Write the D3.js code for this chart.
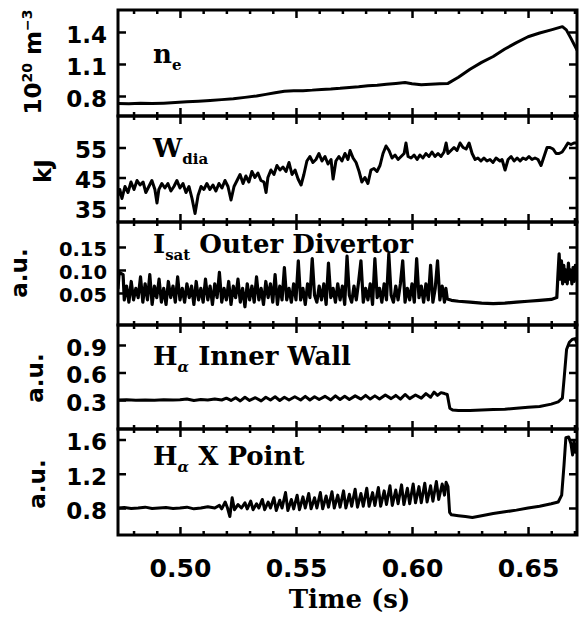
<!DOCTYPE html>
<html><head><meta charset="utf-8">
<script src="https://cdn.jsdelivr.net/npm/d3@7"></script>
<style>
html,body{margin:0;padding:0;background:#fff;}
svg{display:block;}
</style></head><body>
<svg id="chart" width="579" height="619"></svg>
<script>
// ---- time axis (s) ----
const timeDomain = [0.4733, 0.6711];
const majorTimeTicks = [0.50, 0.55, 0.60, 0.65];
const minorTimeTicks = [0.48,0.49,0.51,0.52,0.53,0.54,0.56,0.57,0.58,0.59,0.61,0.62,0.63,0.64,0.66,0.67];

// ---- signals: [time in ms, value] ----
const neData = [[473.3,.73],[478,.728],[483,.732],[488,.729],[493,.733],[498,.738],[503,.745],[508,.75],[513,.757],[518,.766],[523,.775],[528,.787],[533,.80],[537,.815],[541,.83],[545,.845],[549,.848],[553,.85],[557,.855],[561,.862],[565,.866],[569,.872],[573,.88],[577,.886],[581,.895],[585,.90],[589,.91],[593,.918],[597,.926],[600,.915],[604,.905],[608,.91],[612,.915],[615.5,.918],[620,.975],[625,1.05],[630,1.115],[635,1.17],[640,1.24],[645,1.30],[650,1.355],[655,1.39],[660,1.42],[664.8,1.45],[666.5,1.42],[668.5,1.34],[671.1,1.23]];

const wdiaData = [[473.3,39],[474.1,41],[475,38],[476.3,42],[477.6,40],[478.9,43.5],[480.2,41],[481.5,44],[482.8,42.5],[484.1,43.5],[485.3,40],[486.6,42],[487.9,44],[489.2,41],[490.1,36.5],[490.9,41],[492.2,43],[493.5,41.5],[494.8,43],[496.1,40.5],[497.4,42],[498.7,44],[500,41.5],[501.3,43],[502.6,40],[503.9,42],[505.2,38],[506.5,33],[507.8,39],[509.1,42],[510.3,41],[511.6,43],[512.9,41],[514.2,42.5],[515.5,40.5],[516.8,43],[518.1,41.5],[519.4,44],[520.7,42],[522,37.5],[523.3,42],[524.6,44],[525.9,46],[527.2,43],[528.4,45.5],[529.7,43.5],[531,47],[532.3,45],[533.6,46.5],[534.9,44],[536.2,43.5],[537.1,40],[537.9,45],[539.2,47.5],[540.5,46],[541.8,49],[543.1,47.5],[544.4,48.5],[545.7,47],[547,50],[548.3,46],[549.6,47.5],[550.9,44.5],[552.2,42.5],[553.4,46],[554.7,50.5],[556,52],[557.3,50],[558.6,51],[559.9,53],[561.2,50.5],[562.5,52],[563.8,49.5],[565.1,51],[566,44.5],[567.2,50.5],[568.5,52],[569.8,50.5],[571.1,53],[572.4,51],[573.3,54],[574.6,51.5],[575.9,50],[577.2,47],[578.4,43.5],[579.7,45],[581,43],[582.3,47.5],[583.6,48],[584.9,47],[586.2,49],[587.5,53],[588.8,55.5],[590.1,54],[591.4,51.5],[592.7,52.5],[594,51],[595.3,52],[596.6,53],[597.4,56.5],[598.3,52],[599.6,51.5],[600.9,52.5],[602.2,51],[603.4,52.5],[604.7,51.5],[606,53],[607.3,52],[608.6,53.5],[609.9,52],[611.2,53],[612.5,52],[613.8,53.5],[614.7,56.5],[615.5,53],[616.8,54],[618.1,55],[619.4,54],[620.7,56.5],[622,55],[623.3,54.5],[624.6,56.5],[625.9,53],[627.2,51],[628.4,51.5],[629.7,50.5],[631,51.5],[632.3,50.5],[633.6,51],[634.9,50],[636.2,51.5],[637.9,50.5],[638.8,51],[640.1,47.5],[641.4,51],[642.7,52],[644,50.5],[645.3,51.5],[646.6,50.5],[647.8,51.5],[649.1,51],[650.4,52],[651.7,51],[653,51.5],[654.3,51],[655.6,49],[656.9,52],[658.2,55],[659.5,55],[660.8,54.5],[662.1,53],[663.4,53],[664.7,53.5],[666,55],[667.2,56.5],[668.5,56],[669.8,56.5],[671.1,56.5]];

const isatData = [[473.3,.06],[473.8,.095],[475.5,.09],[476,.035],[477,.065],[478,.03],[479,.075],[480,.035],[481,.06],[482,.04],[483,.085],[484,.03],[485,.07],[486,.035],[487,.09],[488,.025],[489,.065],[490,.04],[491,.08],[492,.03],[493,.06],[494,.025],[495,.075],[496,.04],[497,.065],[498,.03],[499,.085],[500,.035],[501,.06],[502,.03],[503,.07],[504,.04],[505,.065],[506,.025],[507,.075],[508,.035],[509,.06],[510,.03],[511,.08],[512,.035],[513,.065],[514,.025],[515,.07],[516,.04],[517,.095],[518,.03],[519,.06],[520,.035],[521,.075],[522,.025],[523,.065],[524,.04],[525,.08],[526,.03],[527,.06],[528,.02],[529,.07],[530,.035],[531,.065],[532,.03],[533,.085],[534,.035],[535,.06],[536,.025],[537,.075],[538,.04],[539,.07],[540,.03],[541,.09],[542,.025],[543,.065],[544,.035],[545,.105],[546,.035],[547,.06],[548,.03],[549,.07],[550,.035],[551,.12],[552,.035],[553,.06],[554,.025],[555,.07],[556,.04],[557,.125],[558,.045],[559,.03],[560,.065],[561,.035],[562,.07],[563,.025],[564,.115],[565,.04],[566,.06],[567,.03],[568,.07],[569,.035],[570,.065],[571,.025],[572,.13],[573,.045],[574,.03],[575,.065],[576,.035],[577,.075],[578,.12],[579,.03],[580,.06],[581,.035],[582,.07],[583,.025],[584,.125],[585,.04],[586,.06],[587,.03],[588,.07],[589,.035],[590,.135],[591,.045],[592,.03],[593,.065],[594,.035],[595,.07],[596,.12],[597,.03],[598,.06],[599,.035],[600,.07],[601,.03],[602,.125],[603,.04],[604,.065],[605,.03],[606,.07],[607,.035],[608,.11],[609,.03],[610,.06],[611,.12],[612,.035],[613,.065],[614,.03],[614.6,.06],[615.2,.037],[617,.034],[620,.032],[625,.03],[630,.028],[635,.027],[640,.028],[645,.03],[650,.032],[655,.034],[660,.036],[662.4,.04],[662.9,.09],[663.4,.135],[663.9,.08],[664.4,.12],[664.9,.07],[665.4,.11],[665.9,.075],[666.4,.10],[666.9,.07],[667.4,.115],[667.9,.08],[668.4,.10],[668.9,.07],[669.4,.105],[669.9,.075],[670.4,.11],[671.1,.08]];

const haInnerData = [[473.3,.30],[477,.302],[481,.298],[485,.301],[489,.297],[493,.303],[497,.299],[500,.302],[503,.31],[506,.295],[509,.305],[512,.30],[515,.31],[518,.30],[520,.32],[522,.295],[524,.325],[526,.29],[528,.33],[530,.295],[532.5,.325],[535,.29],[537,.33],[539,.30],[541,.335],[543,.295],[545,.33],[547,.30],[549.5,.335],[552,.30],[554,.34],[556,.30],[558,.335],[560,.305],[562.5,.34],[565,.30],[567,.345],[569,.305],[571,.34],[573,.305],[575.5,.345],[578,.31],[580,.35],[582,.31],[584,.345],[586,.31],[588.5,.355],[591,.315],[593,.35],[595,.31],[597,.36],[599,.315],[601.5,.355],[604,.32],[606,.37],[608,.33],[609.5,.385],[611,.35],[612.5,.38],[614,.37],[615.2,.36],[616.3,.21],[617.5,.19],[620,.185],[625,.185],[630,.19],[635,.195],[640,.20],[645,.21],[650,.22],[655,.23],[660,.255],[663,.28],[664.8,.32],[665.6,.55],[666.6,.85],[667.8,.93],[669,.96],[670.3,.97],[671.1,.92]];

const haXData = [[473.3,.80],[476,.805],[479,.795],[482,.80],[485,.81],[488,.795],[491,.80],[494,.805],[497,.795],[500,.80],[503,.81],[506,.79],[509,.80],[512,.815],[515,.80],[517,.83],[518,.79],[519.5,.87],[520.5,.80],[521.5,.70],[522.5,.92],[523.5,.78],[525,.84],[526.5,.80],[528,.86],[529,.79],[530.5,.88],[531.5,.78],[533,.85],[534,.80],[535.5,.90],[536.5,.78],[538,.87],[539,.80],[540.5,.92],[541.5,.77],[543,.89],[544,.80],[545.5,.98],[546.5,.77],[548,.90],[549,.79],[550.5,.95],[551.5,.78],[553,.93],[554,.80],[555.5,.97],[556.5,.79],[558,.92],[559,.80],[560.5,.98],[561.5,.79],[563,.94],[564,.81],[565.5,.99],[566.5,.80],[568,.95],[569,.81],[570.5,1.0],[571.5,.80],[573,.96],[574,.82],[575.5,1.02],[576.5,.81],[578,.97],[579,.82],[580.5,1.03],[581.5,.82],[583,.98],[584,.83],[585.5,1.04],[586.5,.82],[588,1.0],[589,.84],[590.5,1.06],[591.5,.83],[593,1.01],[594,.85],[595.5,1.07],[596.5,.84],[598,1.03],[599,.85],[600.5,1.08],[601.5,.86],[603,1.05],[604,.86],[605.5,1.09],[606.5,.87],[608,1.06],[609,.88],[610.5,1.11],[611.5,.90],[613,1.08],[614,.95],[614.7,1.10],[615.5,1.05],[616.2,.75],[617,.72],[620,.71],[623,.70],[626,.69],[630,.71],[635,.735],[640,.755],[645,.775],[650,.80],[655,.82],[660,.85],[663,.87],[664.5,.95],[665.5,1.3],[666.3,1.62],[667.5,1.63],[668.5,1.55],[669.2,1.42],[669.8,1.58],[670.4,1.45],[671.1,1.55]];

// ---- y-axis extents and tick values ----
const neDomain = [0.6125, 1.606],   neTicks = [0.8, 1.1, 1.4];
const wdiaDomain = [30.17, 65.5],   wdiaTicks = [35, 45, 55];
const isatDomain = [-0.0196, 0.2043], isatTicks = [0.05, 0.10, 0.15];
const haInDomain = [-0.0164, 1.118], haInTicks = [0.3, 0.6, 0.9];
const haXDomain = [0.4846, 1.7227], haXTicks = [0.8, 1.2, 1.6];

// ---- layout ----
const left = 118, right = 577;
const edges = [10, 116, 222, 325, 429, 535];
const SANS = "'DejaVu Sans', sans-serif";
const SERIF = "'DejaVu Serif', serif";

const panels = [
  { data: neData, domain: neDomain, ticks: neTicks, fmt: ".1f", tickFont: 23, width: 3,
    label: [["n"], ["e", "sub"]],
    title: [["10"], ["20", "sup"], [" m"], ["\u22123", "sup"]], titleX: 41 },
  { data: wdiaData, domain: wdiaDomain, ticks: wdiaTicks, fmt: "d", tickFont: 23, width: 3,
    label: [["W"], ["dia", "sub"]],
    title: [["kJ"]], titleX: 51 },
  { data: isatData, domain: isatDomain, ticks: isatTicks, fmt: ".2f", tickFont: 19.5, width: 3.2,
    label: [["I"], ["sat", "sub"], [" Outer Divertor"]],
    title: [["a.u."]], titleX: 27 },
  { data: haInnerData, domain: haInDomain, ticks: haInTicks, fmt: ".1f", tickFont: 23, width: 3,
    label: [["H"], ["\u03b1", "subi"], [" Inner Wall"]],
    title: [["a.u."]], titleX: 43 },
  { data: haXData, domain: haXDomain, ticks: haXTicks, fmt: ".1f", tickFont: 23, width: 3,
    label: [["H"], ["\u03b1", "subi"], [" X Point"]],
    title: [["a.u."]], titleX: 45 }
];

const svg = d3.select("#chart");
const x = d3.scaleLinear().domain(timeDomain).range([left, right]);

function styleTicks(sel, w) {
  sel.select(".domain").remove();
  sel.selectAll(".tick line").attr("stroke", "#000").attr("stroke-width", w);
}

panels.forEach((p, i) => {
  const top = edges[i], bottom = edges[i + 1];
  const y = d3.scaleLinear().domain(p.domain).range([bottom, top]);
  const g = svg.append("g");

  const cid = "clip" + i;
  svg.append("clipPath").attr("id", cid).append("rect")
    .attr("x", left).attr("y", top).attr("width", right - left).attr("height", bottom - top);

  const line = d3.line().x(d => x(d[0] / 1000)).y(d => y(d[1]));
  g.append("path").datum(p.data)
    .attr("clip-path", `url(#${cid})`)
    .attr("d", line)
    .attr("fill", "none").attr("stroke", "#000")
    .attr("stroke-width", p.width).attr("stroke-linejoin", "round").attr("stroke-linecap", "round");

  // left value axis, ticks pointing inward
  const la = g.append("g").attr("transform", `translate(${left},0)`)
    .call(d3.axisLeft(y).tickValues(p.ticks).tickFormat(d3.format(p.fmt)).tickSize(-8).tickPadding(11));
  styleTicks(la, 2.5);
  la.selectAll(".tick text")
    .attr("font-family", SANS).attr("font-weight", "bold").attr("font-size", p.tickFont)
    .attr("fill", "#000").attr("dy", "0.45em");

  // right value axis, unlabeled
  const ra = g.append("g").attr("transform", `translate(${right},0)`)
    .call(d3.axisRight(y).tickValues(p.ticks).tickFormat("").tickSize(-8));
  styleTicks(ra, 2.5);

  // time ticks along the top and bottom edges of each panel
  [[top, d3.axisTop], [bottom, d3.axisBottom]].forEach(([yy, axisFn]) => {
    const maj = g.append("g").attr("transform", `translate(0,${yy})`)
      .call(axisFn(x).tickValues(majorTimeTicks).tickFormat("").tickSize(-8));
    styleTicks(maj, 2.5);
    const mn = g.append("g").attr("transform", `translate(0,${yy})`)
      .call(axisFn(x).tickValues(minorTimeTicks).tickFormat("").tickSize(-4));
    styleTicks(mn, 2.5);
  });

  // frame
  g.append("rect").attr("x", left).attr("y", top)
    .attr("width", right - left).attr("height", bottom - top)
    .attr("fill", "none").attr("stroke", "#000").attr("stroke-width", 3);

  // panel label with subscripts
  const lt = g.append("text").attr("x", 153).attr("y", top + [53, 41, 31, 40, 36][i])
    .attr("font-family", SERIF).attr("font-weight", "bold").attr("font-size", 26).attr("fill", "#000");
  let shifted = 0;
  p.label.forEach(([t, kind]) => {
    const ts = lt.append("tspan").text(t);
    if (kind === "sub" || kind === "subi") {
      ts.attr("dy", 7 - shifted).attr("font-size", 15);
      if (kind === "subi") ts.attr("font-style", "italic");
      shifted = 7;
    } else if (shifted) {
      ts.attr("dy", -shifted); shifted = 0;
    }
  });

  // rotated unit title
  const cy = [62, 171, 273, 378, 484][i];
  const tt = g.append("text")
    .attr("transform", `translate(${p.titleX},${cy}) rotate(-90)`)
    .attr("text-anchor", "middle")
    .attr("font-family", SANS).attr("font-weight", "bold").attr("font-size", 23).attr("fill", "#000");
  let up = 0;
  p.title.forEach(([t, kind]) => {
    const ts = tt.append("tspan").text(t);
    if (kind === "sup") { ts.attr("dy", -9 - up).attr("font-size", 14); up = -9; }
    else if (up) { ts.attr("dy", -up); up = 0; }
  });
});

// time labels under the bottom panel
const xa = svg.append("g").attr("transform", `translate(0,${edges[5]})`)
  .call(d3.axisBottom(x).tickValues(majorTimeTicks).tickFormat(d3.format(".2f")).tickSize(0).tickPadding(24));
xa.select(".domain").remove();
xa.selectAll(".tick text").attr("font-family", SANS).attr("font-weight", "bold")
  .attr("font-size", 25).attr("fill", "#000");

svg.append("text").attr("x", (left + right) / 2 + 2).attr("y", 608)
  .attr("text-anchor", "middle").attr("font-family", SERIF).attr("font-weight", "bold")
  .attr("font-size", 26).attr("fill", "#000").text("Time (s)");
</script>
</body></html>
